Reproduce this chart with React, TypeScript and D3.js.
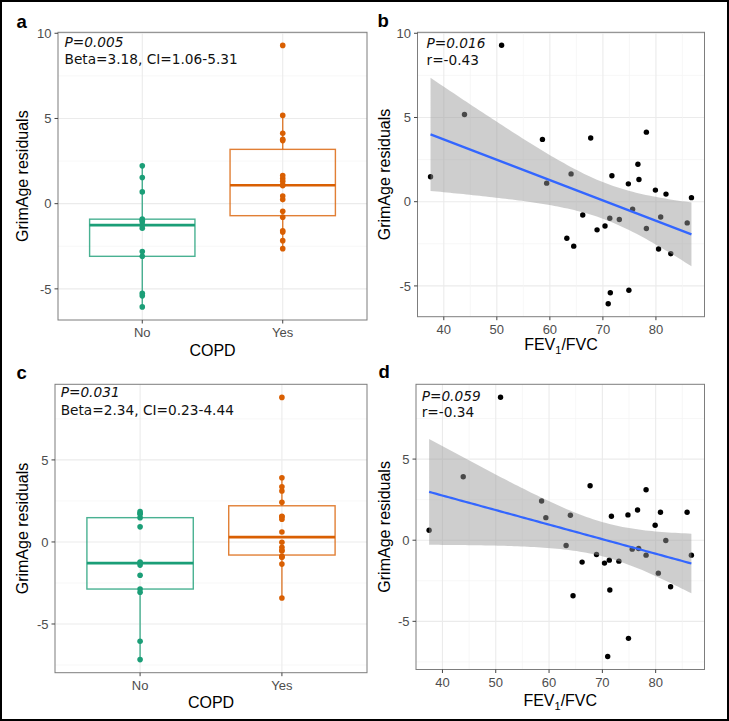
import React from "react";
import * as d3 from "d3";

// FEV1/FVC per subject, GrimAge residuals from the two models, COPD status
const fev1fvc = [
  37.5, 43.9, 50.9, 58.6, 59.4, 63.2, 64.0, 64.5, 66.2, 67.7, 68.9, 70.4, 71.0, 71.3, 71.4, 71.7,
  73.1, 74.8, 74.9, 75.6, 76.6, 76.8, 78.2, 78.2, 79.9, 80.5, 80.9, 81.9, 82.8, 85.9, 86.7,
];
const residModel1 = [
  1.48, 5.18, 9.29, 3.7, 1.1, -2.17, 1.65, -2.64, -0.79, 3.78, -1.67, -1.44, -6.06, -0.98, -5.41, 1.54,
  -1.06, 1.06, -5.26, -0.45, 2.22, 1.32, 4.13, -1.59, 0.69, -2.81, -0.91, 0.45, -3.09, -1.26, 0.24,
];
const residModel2 = [
  0.61, 3.91, 8.81, 2.42, 1.39, -0.33, 1.54, -3.42, -1.35, 3.36, -0.88, -1.41, -7.17, -1.23, -3.07, 1.48,
  -1.29, 1.56, -6.05, -0.55, 1.86, -0.51, 3.11, -0.92, 0.92, -2.03, 1.72, -0.02, -2.87, 1.72, -0.92,
];
const copd = [
  "Yes", "Yes", "Yes", "Yes", "Yes", "Yes", "Yes", "Yes", "Yes", "Yes", "Yes", "No", "No", "No", "No", "No",
  "No", "Yes", "No", "Yes", "No", "Yes", "Yes", "Yes", "No", "No", "No", "Yes", "No", "No", "Yes",
];

const groups = ["No", "Yes"];
const groupColors = ["#1B9E77", "#D95F02"];

const labelsA = ["P=0.005", "Beta=3.18, CI=1.06-5.31"];
const labelsB = ["P=0.016", "r=-0.43"];
const labelsC = ["P=0.031", "Beta=2.34, CI=0.23-4.44"];
const labelsD = ["P=0.059", "r=-0.34"];

const T_975_DF29 = 2.045;

const sans = "'Liberation Sans', Arial, sans-serif";
const dejavu = "'DejaVu Sans', Verdana, sans-serif";
const gridMajor = "#EBEBEB";
const gridMinor = "#F3F3F3";
const frameColor = "#7d7d7d";
const tickText = "#4D4D4D";
const tickSize = 13;

function expand(values) {
  const [lo, hi] = d3.extent(values);
  const pad = (hi - lo) * 0.05;
  return [lo - pad, hi + pad];
}

function minorTicks(major, domain) {
  const step = major[1] - major[0];
  const out = [];
  for (let v = major[0] - step / 2; v <= domain[1]; v += step) {
    if (v >= domain[0]) out.push(v);
  }
  return out;
}

function boxStats(vals) {
  const s = [...vals].sort(d3.ascending);
  const q1 = d3.quantile(s, 0.25);
  const med = d3.quantile(s, 0.5);
  const q3 = d3.quantile(s, 0.75);
  const iqr = q3 - q1;
  const lo = d3.min(s.filter((v) => v >= q1 - 1.5 * iqr));
  const hi = d3.max(s.filter((v) => v <= q3 + 1.5 * iqr));
  return { q1, med, q3, lo, hi };
}

function YAxis({ y, box }) {
  const dom = y.domain();
  const major = d3.range(-20, 25, 5).filter((t) => t >= dom[0] && t <= dom[1]);
  return (
    <g>
      {major.map((t) => (
        <g key={t}>
          <line x1={box.left - 3.5} x2={box.left} y1={y(t)} y2={y(t)} stroke="#444" strokeWidth={1} />
          <text
            x={box.left - 6.5}
            y={y(t)}
            dy="0.36em"
            textAnchor="end"
            fontFamily={sans}
            fontSize={tickSize}
            fill={tickText}
          >
            {String(t)}
          </text>
        </g>
      ))}
    </g>
  );
}

function YGrid({ y, box }) {
  const dom = y.domain();
  const major = d3.range(-20, 25, 5).filter((t) => t >= dom[0] && t <= dom[1]);
  const minor = minorTicks(major, dom);
  return (
    <g>
      {minor.map((t) => (
        <line key={"m" + t} x1={box.left} x2={box.right} y1={y(t)} y2={y(t)} stroke={gridMinor} strokeWidth={0.7} />
      ))}
      {major.map((t) => (
        <line key={t} x1={box.left} x2={box.right} y1={y(t)} y2={y(t)} stroke={gridMajor} strokeWidth={1.1} />
      ))}
    </g>
  );
}

function Annot({ lines, x, y1, y2 }) {
  return (
    <g fontFamily={dejavu} fontSize={13.7} fill="#111">
      <text x={x} y={y1} fontStyle="italic">
        {lines[0]}
      </text>
      <text x={x} y={y2}>
        {lines[1]}
      </text>
    </g>
  );
}

function YTitle({ x, box }) {
  const cy = (box.top + box.bottom) / 2;
  return (
    <text
      transform={`translate(${x},${cy}) rotate(-90)`}
      textAnchor="middle"
      fontFamily={sans}
      fontSize={16}
      fill="#000"
    >
      GrimAge residuals
    </text>
  );
}

function PanelLetter({ pos, letter }) {
  return (
    <text x={pos[0]} y={pos[1]} fontFamily={sans} fontWeight="bold" fontSize={18.5} fill="#000">
      {letter}
    </text>
  );
}

function BoxPanel({ box, resid, labels, ann, titleX, titleY, letter, letterPos }) {
  const y = d3.scaleLinear().domain(expand(resid)).range([box.bottom, box.top]);
  const x = d3.scalePoint().domain(groups).range([box.left, box.right]).padding(0.6);
  const bw = x.step() * 0.75;
  return (
    <g>
      <rect x={box.left} y={box.top} width={box.right - box.left} height={box.bottom - box.top} fill="#fff" />
      <YGrid y={y} box={box} />
      {groups.map((g) => (
        <line key={g} x1={x(g)} x2={x(g)} y1={box.top} y2={box.bottom} stroke={gridMajor} strokeWidth={1.1} />
      ))}
      {groups.map((g, gi) => {
        const vals = resid.filter((_, i) => copd[i] === g);
        const st = boxStats(vals);
        const cx = x(g);
        const col = groupColors[gi];
        return (
          <g key={g}>
            <line x1={cx} x2={cx} y1={y(st.q3)} y2={y(st.hi)} stroke={col} strokeWidth={1.4} strokeOpacity={0.8} />
            <line x1={cx} x2={cx} y1={y(st.q1)} y2={y(st.lo)} stroke={col} strokeWidth={1.4} strokeOpacity={0.8} />
            <rect
              x={cx - bw / 2}
              y={y(st.q3)}
              width={bw}
              height={y(st.q1) - y(st.q3)}
              fill="none"
              stroke={col}
              strokeWidth={1.4}
              strokeOpacity={0.8}
            />
            <line x1={cx - bw / 2} x2={cx + bw / 2} y1={y(st.med)} y2={y(st.med)} stroke={col} strokeWidth={2.6} />
            {vals.map((v, i) => (
              <circle key={i} cx={cx} cy={y(v)} r={2.8} fill={col} />
            ))}
          </g>
        );
      })}
      <rect
        x={box.left}
        y={box.top}
        width={box.right - box.left}
        height={box.bottom - box.top}
        fill="none"
        stroke={frameColor}
        strokeWidth={1}
      />
      <YAxis y={y} box={box} />
      {groups.map((g) => (
        <g key={g}>
          <line x1={x(g)} x2={x(g)} y1={box.bottom} y2={box.bottom + 3.5} stroke="#444" />
          <text
            x={x(g)}
            y={box.bottom + 17}
            textAnchor="middle"
            fontFamily={sans}
            fontSize={tickSize}
            fill={tickText}
          >
            {g}
          </text>
        </g>
      ))}
      <Annot lines={labels} x={ann[0]} y1={ann[1]} y2={ann[2]} />
      <YTitle x={titleY} box={box} />
      <text x={(box.left + box.right) / 2} y={titleX} textAnchor="middle" fontFamily={sans} fontSize={16} fill="#000">
        COPD
      </text>
      <PanelLetter pos={letterPos} letter={letter} />
    </g>
  );
}

function ScatterPanel({ box, resid, labels, ann, titleX, titleY, letter, letterPos }) {
  const x = d3.scaleLinear().domain(expand(fev1fvc)).range([box.left, box.right]);
  const y = d3.scaleLinear().domain(expand(resid)).range([box.bottom, box.top]);

  // ordinary least squares with 95% confidence band
  const n = fev1fvc.length;
  const xbar = d3.mean(fev1fvc);
  const ybar = d3.mean(resid);
  const sxx = d3.sum(fev1fvc, (v) => (v - xbar) ** 2);
  const sxy = d3.sum(fev1fvc, (v, i) => (v - xbar) * (resid[i] - ybar));
  const slope = sxy / sxx;
  const icpt = ybar - slope * xbar;
  const sse = d3.sum(fev1fvc, (v, i) => (resid[i] - (icpt + slope * v)) ** 2);
  const s = Math.sqrt(sse / (n - 2));
  const [x0, x1] = d3.extent(fev1fvc);
  const fit = d3.range(0, 81).map((k) => {
    const xv = x0 + ((x1 - x0) * k) / 80;
    const yv = icpt + slope * xv;
    const se = s * Math.sqrt(1 / n + (xv - xbar) ** 2 / sxx);
    return { xv, yv, lo: yv - T_975_DF29 * se, hi: yv + T_975_DF29 * se };
  });
  const area = d3
    .area()
    .x((d) => x(d.xv))
    .y0((d) => y(d.lo))
    .y1((d) => y(d.hi));
  const line = d3
    .line()
    .x((d) => x(d.xv))
    .y((d) => y(d.yv));

  const xMajor = x.ticks(5).filter((t) => t >= x.domain()[0]);
  const xMinor = minorTicks(xMajor, x.domain());

  return (
    <g>
      <rect x={box.left} y={box.top} width={box.right - box.left} height={box.bottom - box.top} fill="#fff" />
      <YGrid y={y} box={box} />
      {xMinor.map((t) => (
        <line key={"m" + t} x1={x(t)} x2={x(t)} y1={box.top} y2={box.bottom} stroke={gridMinor} strokeWidth={0.7} />
      ))}
      {xMajor.map((t) => (
        <line key={t} x1={x(t)} x2={x(t)} y1={box.top} y2={box.bottom} stroke={gridMajor} strokeWidth={1.1} />
      ))}
      {fev1fvc.map((v, i) => (
        <circle key={i} cx={x(v)} cy={y(resid[i])} r={2.7} fill="#000" />
      ))}
      <path d={area(fit)} fill="#999999" fillOpacity={0.48} />
      <path d={line(fit)} fill="none" stroke="#3366FF" strokeWidth={2.2} />
      <rect
        x={box.left}
        y={box.top}
        width={box.right - box.left}
        height={box.bottom - box.top}
        fill="none"
        stroke={frameColor}
        strokeWidth={1}
      />
      <YAxis y={y} box={box} />
      {xMajor.map((t) => (
        <g key={t}>
          <line x1={x(t)} x2={x(t)} y1={box.bottom} y2={box.bottom + 3.5} stroke="#444" />
          <text
            x={x(t)}
            y={box.bottom + 17}
            textAnchor="middle"
            fontFamily={sans}
            fontSize={tickSize}
            fill={tickText}
          >
            {String(t)}
          </text>
        </g>
      ))}
      <Annot lines={labels} x={ann[0]} y1={ann[1]} y2={ann[2]} />
      <YTitle x={titleY} box={box} />
      <text x={(box.left + box.right) / 2} y={titleX} textAnchor="middle" fontFamily={sans} fontSize={16} fill="#000">
        FEV
        <tspan fontSize={11} dy={4}>
          1
        </tspan>
        <tspan dy={-4}>/FVC</tspan>
      </text>
      <PanelLetter pos={letterPos} letter={letter} />
    </g>
  );
}

export default function App() {
  return (
    <svg
      width={729}
      height={721}
      style={{ position: "absolute", left: 0, top: 0, background: "#fff" }}
    >
      <rect x={0} y={0} width={729} height={721} fill="#fff" />
      <BoxPanel
        box={{ left: 58, top: 32.3, right: 367, bottom: 320 }}
        resid={residModel1}
        labels={labelsA}
        ann={[64.5, 46.7, 64]}
        titleX={356}
        titleY={28.2}
        letter="a"
        letterPos={[16.5, 28]}
      />
      <ScatterPanel
        box={{ left: 417.5, top: 32.3, right: 704.5, bottom: 316.7 }}
        resid={residModel1}
        labels={labelsB}
        ann={[426.5, 48.3, 65]}
        titleX={349.5}
        titleY={389.8}
        letter="b"
        letterPos={[377.5, 26.7]}
      />
      <BoxPanel
        box={{ left: 55, top: 384.3, right: 367, bottom: 672.7 }}
        resid={residModel2}
        labels={labelsC}
        ann={[60.7, 397.3, 415]}
        titleX={708.3}
        titleY={28.2}
        letter="c"
        letterPos={[16.5, 379.3]}
      />
      <ScatterPanel
        box={{ left: 416, top: 384.3, right: 704.5, bottom: 669.5 }}
        resid={residModel2}
        labels={labelsD}
        ann={[421.7, 400.7, 417.3]}
        titleX={705.7}
        titleY={389.8}
        letter="d"
        letterPos={[378.5, 377.7]}
      />
      <rect x={1} y={1} width={727} height={719} fill="none" stroke="#000" strokeWidth={2} />
    </svg>
  );
}
